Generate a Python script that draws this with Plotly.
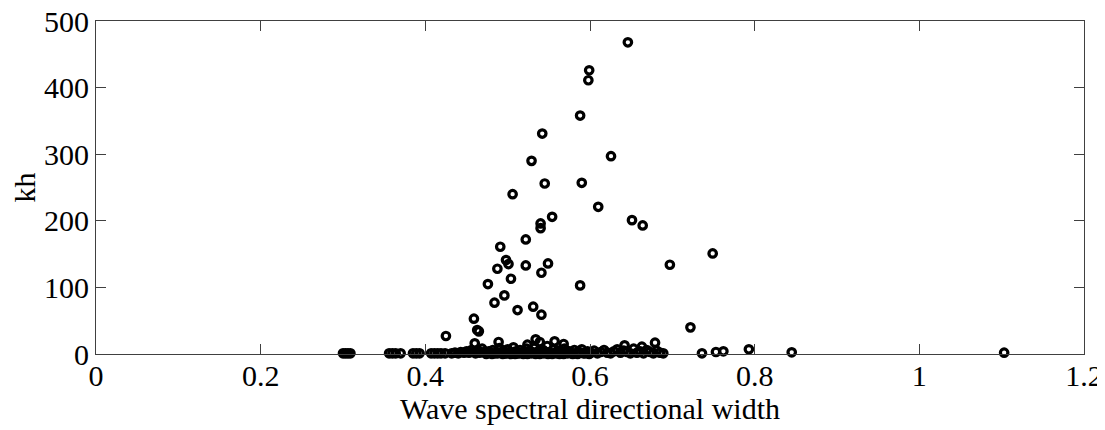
import plotly.graph_objects as go

# Upper (scattered) points: directional width, kh
upper_x = [0.646, 0.599, 0.598, 0.588, 0.542, 0.6255, 0.529, 0.545, 0.590, 0.506,
           0.610, 0.554, 0.651, 0.664, 0.540, 0.540, 0.522, 0.491, 0.749, 0.498,
           0.501, 0.4875, 0.522, 0.549, 0.697, 0.541, 0.504, 0.476, 0.588, 0.496,
           0.484, 0.531, 0.512, 0.541, 0.459, 0.463, 0.465, 0.425, 0.722, 0.534,
           0.557, 0.679, 0.460, 0.489, 0.524, 0.539, 0.568, 0.642, 0.663]
upper_y = [468, 426, 411, 358, 331, 297, 290, 256, 257, 240,
           221, 206, 201, 193, 196, 189, 172, 161, 151, 141,
           135, 128, 133, 136, 134, 122, 113, 105, 103, 88,
           77, 71, 66, 59, 53, 36, 34, 27, 40, 22,
           19, 17, 16, 18, 14, 18, 15, 13, 11]

# Points lying near zero
low_x = [0.300, 0.303, 0.306, 0.309, 0.356, 0.360, 0.364, 0.370, 0.385, 0.389,
         0.393, 0.407, 0.411, 0.415, 0.419, 0.424,
         0.736, 0.753, 0.762, 0.793, 0.845, 1.103]
low_y = [1, 1, 1, 1, 1, 1, 1, 1, 1, 1,
         1, 1, 1, 1, 1, 1,
         1, 3, 4, 7, 2.5, 2]

dense_x = [0.432, 0.436, 0.440, 0.443, 0.447, 0.450, 0.453, 0.456, 0.458, 0.461,
           0.464, 0.466, 0.469, 0.471, 0.474, 0.477, 0.479, 0.482, 0.485, 0.487,
           0.490, 0.492, 0.495, 0.497, 0.500, 0.502, 0.505, 0.507, 0.510, 0.512,
           0.515, 0.517, 0.520, 0.523, 0.525, 0.527, 0.530, 0.532, 0.535, 0.537,
           0.540, 0.543, 0.545, 0.548, 0.550, 0.553, 0.556, 0.558, 0.561, 0.564,
           0.566, 0.569, 0.572, 0.575, 0.578, 0.581, 0.584, 0.587, 0.590, 0.594,
           0.597, 0.601, 0.605, 0.609, 0.613, 0.617, 0.621, 0.625, 0.629, 0.633,
           0.637, 0.641, 0.645, 0.649, 0.653, 0.657, 0.661, 0.665, 0.669, 0.673,
           0.677, 0.681, 0.685, 0.689,
           0.474, 0.481, 0.488, 0.494, 0.499, 0.504, 0.509, 0.514, 0.519, 0.524,
           0.529, 0.534, 0.539, 0.544, 0.549, 0.554, 0.559, 0.563, 0.568, 0.573,
           0.579, 0.585, 0.592, 0.599]
dense_y = [1, 2, 1, 3, 2, 4, 2, 6, 3, 1,
           5, 2, 8, 3, 1, 4, 2, 6, 1, 3,
           9, 2, 5, 1, 7, 3, 2, 10, 4, 1,
           6, 2, 3, 8, 1, 5, 2, 9, 3, 1,
           4, 6, 2, 12, 3, 1, 7, 2, 5, 1,
           3, 8, 2, 4, 1, 6, 2, 3, 7, 1,
           4, 2, 5, 1, 3, 6, 2, 1, 4, 7,
           2, 5, 3, 1, 8, 2, 4, 1, 6, 3,
           1, 5, 2, 1,
           0, 0, 1, 0, 1, 0, 0, 1, 0, 0,
           1, 0, 0, 1, 0, 0, 1, 0, 0, 1,
           0, 0, 1, 0]

x_ticks = [0, 0.2, 0.4, 0.6, 0.8, 1, 1.2]
y_ticks = [0, 100, 200, 300, 400, 500]

all_x = upper_x + low_x + dense_x
all_y = upper_y + low_y + dense_y

FONT = "Liberation Serif, Times New Roman, serif"

fig = go.Figure()
fig.add_trace(go.Scatter(
    x=all_x, y=all_y, mode="markers",
    marker=dict(symbol="circle-open", size=7.5, color="black",
                line=dict(width=3.2, color="black")),
    cliponaxis=False, showlegend=False, hoverinfo="x+y",
))

axis_common = dict(
    showgrid=False, zeroline=False, showline=True, linecolor="#404040", linewidth=1.2,
    mirror="ticks", ticks="inside", ticklen=10, tickwidth=1, tickcolor="#404040",
    tickfont=dict(family=FONT, size=30, color="black"),
    ticklabeloverflow="allow",
)

fig.update_xaxes(range=[0, 1.2], tickvals=x_ticks, ticktext=[str(v) for v in x_ticks],
                 ticklabelstandoff=-5,
                 title=dict(text="Wave spectral directional width",
                            font=dict(family=FONT, size=30, color="black"),
                            standoff=2),
                 **axis_common)
fig.update_yaxes(range=[0, 500], tickvals=y_ticks, ticktext=[str(v) for v in y_ticks],
                 title=dict(text="kh",
                            font=dict(family=FONT, size=30, color="black"),
                            standoff=6),
                 **axis_common)

# The page body adds an 8px offset; the figure is sized to fit the window
# so the plot area lands at x 96..1084, y 21..354.
fig.update_layout(
    width=1097, height=422,
    margin=dict(l=88, r=21, t=13, b=76, autoexpand=False),
    paper_bgcolor="white", plot_bgcolor="white",
)

fig.write_html("out.html")
